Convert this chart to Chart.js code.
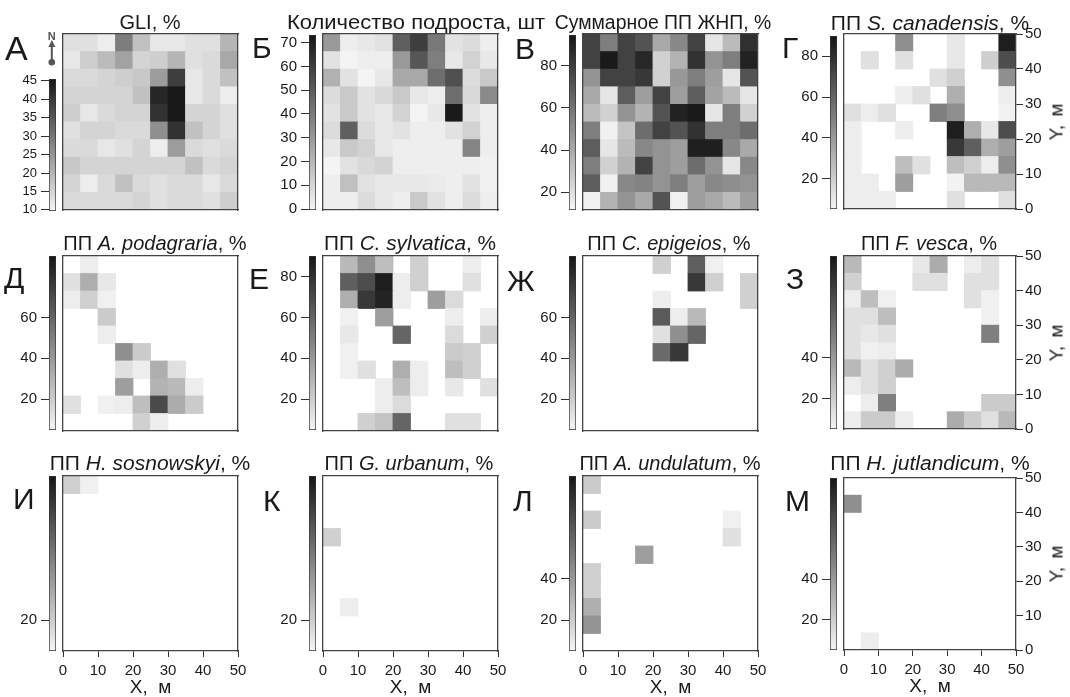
<!DOCTYPE html>
<html><head><meta charset="utf-8">
<script src="https://cdn.jsdelivr.net/npm/chart.js@4.4.1/dist/chart.umd.min.js"></script>
<style>
html,body{margin:0;padding:0;background:#fff;}
body{width:1070px;height:697px;overflow:hidden;position:relative;font-family:"Liberation Sans",Arial,sans-serif;color:#1a1a1a;}
canvas{position:absolute;}
.title{position:absolute;font-size:20px;line-height:1;white-space:nowrap;transform:translateX(-50%);}
.letter{position:absolute;font-size:30px;line-height:1;}
.ylab{position:absolute;font-size:19px;line-height:1;white-space:nowrap;transform:translate(-50%,-50%) rotate(-90deg);word-spacing:3px;}
</style></head><body>
<script>
// ---------------- DATA ----------------
const _ = null;
const xTickValues = [0, 10, 20, 30, 40, 50];
const yTickValues = [0, 10, 20, 30, 40, 50];
const gliTicks = [10, 15, 20, 25, 30, 35, 40, 45];
const seedlingTicks = [0, 10, 20, 30, 40, 50, 60, 70];
const totalTicks = [20, 40, 60, 80];
const gliRange = [9.7, 45.5];
const seedlingRange = [-0.4, 73.2];
const totalRange = [11.6, 94.5];
const coverRange = [5, 90];

// rows listed from north (Y 45-50) to south (Y 0-5), columns from X 0-5 to X 45-50
const gliGrid = [
  [13,13,11,29,18,12,12,13,13,20],
  [12,16,19,23,15,16,20,13,14,22],
  [14,14,15,16,17,24,39,12,14,18],
  [15,15,15,15,18,43,45,12,14,11],
  [16,12,14,15,15,41,45,15,15,13],
  [13,15,15,14,14,26,41,18,15,13],
  [14,14,12,13,15,11,24,14,13,14],
  [17,15,15,15,15,15,15,18,14,15],
  [15,11,14,18,14,13,14,14,12,14],
  [14,14,14,14,15,13,14,14,13,16]
];
const seedlingGrid = [
  [30, 2, 4, 6,49,60,41, 6, 8, 2],
  [ 6, 0, 2, 2,30,52,39, 4,11, 4],
  [22, 6, 0, 4,25,25,44,54, 8,14],
  [ 8,14, 6, 9,14, 4, 2,44, 9,35],
  [ 6,14, 6, 4,11, 0, 4,72, 6, 2],
  [ 8,49, 8, 4, 6, 2, 2, 6,11, 2],
  [ 4,14,11, 4, 2, 2, 2, 2,37, 2],
  [ 0, 6, 9,11, 2, 2, 2, 2, 2, 1],
  [ 2,17, 6, 4, 4, 4, 3, 2, 6, 1],
  [ 2, 2, 8, 4, 2,14, 6, 2, 8, 2]
];
const totalCoverGrid = [
  [78,56,78,72,40,52,78,17,33,85],
  [78,93,78,88,25,36,84,48,56,90],
  [48,78,78,82,25,46,56,44,17,72],
  [40,17,68,44,78,44,68,42,33,17],
  [33,25,48,36,72,90,93,17,56,25],
  [56,13,30,62,78,72,84,56,56,62],
  [68,17,33,52,48,44,91,91,52,40],
  [56,25,36,78,48,44,62,48,17,52],
  [68,13,52,54,48,56,44,52,50,48],
  [13,36,48,40,72,13,44,40,33,44]
];
const canadensisGrid = [
  [_,_,_,44,_,_,10,_,_,87],
  [_,13,_,13,_,_,10,_,20,69],
  [_,_,_,_,_,13,19,_,_,44],
  [_,_,_, 8,13,_,32,_,_, 8],
  [13,8,13,_,_,50,44,_,_, 6],
  [ 8,_,_, 8,_,_,87,32,10,69],
  [ 8,_,_,_,_,_,77,62,32,38],
  [ 8,_,_,26,13,_,26,19, 8,44],
  [ 8,8,_,38,_,_, 6,28,28,28],
  [ 8,8,8,_,_,_,13,_,_,13]
];
const podagrariaGrid = [
  [_, 8,_,_,_,_,_,_,_,_],
  [13,32,10,_,_,_,_,_,_,_],
  [ 8,19, 7,_,_,_,_,_,_,_],
  [_,_,21,_,_,_,_,_,_,_],
  [_,_, 8,_,_,_,_,_,_,_],
  [_,_,_,44,21,_,_,_,_,_],
  [_,_,_,13, 8,32,13,_,_,_],
  [_,_,_,38,_,30,28, 8,_,_],
  [13,_,7, 8,26,70,33,21,_,_],
  [_,_,_,_,19, 8,_,_,_,_]
];
const sylvaticaGrid = [
  [_,28,44,26,_,19,_,_, 8,_],
  [_,62,69,87, 8,19,_,_,13,_],
  [_,32,77,85, 8,_,38,15,_,_],
  [_, 7,_,38,_,_,_, 8,_, 8],
  [_,10,_,_,60,_,_,15,_,19],
  [_, 7,_,_,_,_,_,21,19,_],
  [_, 7,13,_,32, 8,_,26,19,_],
  [_,_,_, 8,26, 8,_,10,_,13],
  [_,_,_, 8,15,_,_,_,_,_],
  [_,_,19,24,60,_,_,13,13,_]
];
const epigeiosGrid = [
  [_,_,_,_,19,_,62, 7,_,_],
  [_,_,_,_,_,_,77,19,_,19],
  [_,_,_,_, 8,_,_,_,_,19],
  [_,_,_,_,64, 8,28,_,_,_],
  [_,_,_,_,13,44,60,_,_,_],
  [_,_,_,_,58,77,_,_,_,_],
  [_,_,_,_,_,_,_,_,_,_],
  [_,_,_,_,_,_,_,_,_,_],
  [_,_,_,_,_,_,_,_,_,_],
  [_,_,_,_,_,_,_,_,_,_]
];
const vescaGrid = [
  [28,_,_,_,10,33,_, 8,13,_],
  [19,_,_,_,13,13,_,13,13,_],
  [ 8,26, 7,_,_,_,_,13, 7,_],
  [13,13,26,_,_,_,_,_, 7,_],
  [13,10,13,_,_,_,_,_,50,_],
  [13, 7, 8,_,_,_,_,_,_,_],
  [28,13,19,33,_,_,_,_,_,_],
  [ 8,13,19,_,_,_,_,_,_,_],
  [_, 8,50,_,_,_,_,_,21,21],
  [ 8,21,21, 8,_,_,33,21,13,28]
];
const sosnowskyiGrid = [
  [19, 7,_,_,_,_,_,_,_,_],
  [_,_,_,_,_,_,_,_,_,_],[_,_,_,_,_,_,_,_,_,_],[_,_,_,_,_,_,_,_,_,_],[_,_,_,_,_,_,_,_,_,_],
  [_,_,_,_,_,_,_,_,_,_],[_,_,_,_,_,_,_,_,_,_],[_,_,_,_,_,_,_,_,_,_],[_,_,_,_,_,_,_,_,_,_],[_,_,_,_,_,_,_,_,_,_]
];
const urbanumGrid = [
  [_,_,_,_,_,_,_,_,_,_],[_,_,_,_,_,_,_,_,_,_],[_,_,_,_,_,_,_,_,_,_],
  [19,_,_,_,_,_,_,_,_,_],
  [_,_,_,_,_,_,_,_,_,_],[_,_,_,_,_,_,_,_,_,_],[_,_,_,_,_,_,_,_,_,_],
  [_, 8,_,_,_,_,_,_,_,_],
  [_,_,_,_,_,_,_,_,_,_],[_,_,_,_,_,_,_,_,_,_]
];
const undulatumGrid = [
  [21,_,_,_,_,_,_,_,_,_],
  [_,_,_,_,_,_,_,_,_,_],
  [21,_,_,_,_,_,_,_, 7,_],
  [_,_,_,_,_,_,_,_,13,_],
  [_,_,_,38,_,_,_,_,_,_],
  [19,_,_,_,_,_,_,_,_,_],
  [19,_,_,_,_,_,_,_,_,_],
  [32,_,_,_,_,_,_,_,_,_],
  [42,_,_,_,_,_,_,_,_,_],
  [_,_,_,_,_,_,_,_,_,_]
];
const jutlandicumGrid = [
  [_,_,_,_,_,_,_,_,_,_],
  [44,_,_,_,_,_,_,_,_,_],
  [_,_,_,_,_,_,_,_,_,_],[_,_,_,_,_,_,_,_,_,_],[_,_,_,_,_,_,_,_,_,_],
  [_,_,_,_,_,_,_,_,_,_],[_,_,_,_,_,_,_,_,_,_],[_,_,_,_,_,_,_,_,_,_],[_,_,_,_,_,_,_,_,_,_],
  [_, 8,_,_,_,_,_,_,_,_]
];

// ---------------- LAYOUT ----------------
const PLOT_SIZE = 50, N_CELLS = 10, CELL = PLOT_SIZE / N_CELLS;
const FONT = '"Liberation Sans", Arial, sans-serif';
Chart.defaults.font.family = FONT;
Chart.defaults.color = '#1a1a1a';

const panels = [
  {letter:'А', lp:[5,31,34], title:'GLI, %', tc:[150,12], grid:gliGrid, range:gliRange, ticks:gliTicks, cbFont:13, g:[63,34,175,176], cb:[49,79,7,132], row:0, col:0},
  {letter:'Б', lp:[252,33], title:'Количество подроста, шт', tsx:1.1, tc:[416,12], grid:seedlingGrid, range:seedlingRange, ticks:seedlingTicks, g:[323,34,175,176], cb:[309,35,7,175], row:0, col:1},
  {letter:'В', lp:[515,34], title:'Суммарное ПП ЖНП, %', tsx:0.97, tc:[663,12], grid:totalCoverGrid, range:totalRange, ticks:totalTicks, g:[583,34,175,176], cb:[569,35,7,175], row:0, col:2},
  {letter:'Г', lp:[782,33], title:'ПП <i>S. canadensis</i>, %', tsx:1.05, tc:[930,13], grid:canadensisGrid, range:coverRange, ticks:[20,40,60,80], g:[844,34,172,175], cb:[830,36,7,173], row:0, col:3},
  {letter:'Д', lp:[4,263], title:'ПП <i>A. podagraria</i>, %', tc:[155,233], grid:podagrariaGrid, range:coverRange, ticks:[20,40,60], g:[63,256,175,175], cb:[49,256,7,174], row:1, col:0},
  {letter:'Е', lp:[249,264], title:'ПП <i>C. sylvatica</i>, %', tsx:1.04, tc:[410,233], grid:sylvaticaGrid, range:coverRange, ticks:[20,40,60,80], g:[323,256,175,175], cb:[309,256,7,174], row:1, col:1},
  {letter:'Ж', lp:[507,266], title:'ПП <i>C. epigeios</i>, %', tc:[669,233], grid:epigeiosGrid, range:coverRange, ticks:[20,40,60], g:[583,256,175,175], cb:[569,256,7,174], row:1, col:2},
  {letter:'З', lp:[786,264], title:'ПП <i>F. vesca</i>, %', tc:[929,233], grid:vescaGrid, range:coverRange, ticks:[20,40], g:[844,256,172,173], cb:[830,256,7,173], row:1, col:3},
  {letter:'И', lp:[13,484], title:'ПП <i>H. sosnowskyi</i>, %', tsx:1.05, tc:[150,453], grid:sosnowskyiGrid, range:coverRange, ticks:[20], g:[63,476,175,175], cb:[49,476,7,175], row:2, col:0},
  {letter:'К', lp:[263,486], title:'ПП <i>G. urbanum</i>, %', tc:[409,453], grid:urbanumGrid, range:coverRange, ticks:[20], g:[323,476,175,175], cb:[309,476,7,175], row:2, col:1},
  {letter:'Л', lp:[513,486], title:'ПП <i>A. undulatum</i>, %', tc:[670,453], grid:undulatumGrid, range:coverRange, ticks:[20,40], g:[583,476,175,175], cb:[569,476,7,175], row:2, col:2},
  {letter:'М', lp:[785,486], title:'ПП <i>H. jutlandicum</i>, %', tsx:1.05, tc:[930,453], grid:jutlandicumGrid, range:coverRange, ticks:[20,40], g:[844,478,172,172], cb:[830,478,7,172], row:2, col:3}
];

const G_LIGHT = 245, G_DARK = 22;
function grayAt(t) { const g = Math.round(G_LIGHT - Math.max(0, Math.min(1, t)) * (G_LIGHT - G_DARK)); return `rgb(${g},${g},${g})`; }
function colorFor(v, range) { return v === null ? 'rgba(0,0,0,0)' : grayAt((v - range[0]) / (range[1] - range[0])); }

function cellsOf(grid) {
  const pts = [];
  grid.forEach((row, r) => row.forEach((v, c) => {
    const y0 = PLOT_SIZE - (r + 1) * CELL;
    pts.push({x: c * CELL + CELL / 2, y: [y0, y0 + CELL], v});
  }));
  return pts;
}

function makeCanvas(left, top, w, h) {
  const cv = document.createElement('canvas');
  cv.width = w; cv.height = h;
  Object.assign(cv.style, {left: left + 'px', top: top + 'px', width: w + 'px', height: h + 'px'});
  document.body.appendChild(cv);
  return cv;
}
function addDiv(cls, html, left, top, extra) {
  const d = document.createElement('div');
  d.className = cls; d.innerHTML = html;
  d.style.left = left + 'px'; d.style.top = top + 'px';
  if (extra) Object.assign(d.style, extra);
  document.body.appendChild(d);
  return d;
}

const BORDER = {display: true, color: '#444', width: 1.3, z: 1};
const noPad = s => { s.paddingLeft = s.paddingRight = s.paddingTop = s.paddingBottom = 0; };

function heatmap(p) {
  const showX = p.row === 2, showY = p.col === 3;
  const PAD = 10, RW = showY ? 50 : 0, BH = showX ? 48 : 0;
  const [l, t, w, h] = p.g;
  const cv = makeCanvas(l - PAD, t - PAD, w + 2 * PAD + RW, h + 2 * PAD + BH);
  const pts = cellsOf(p.grid);
  new Chart(cv, {
    type: 'bar',
    data: {datasets: [{
      data: pts,
      backgroundColor: pts.map(pt => colorFor(pt.v, p.range)),
      borderWidth: 0, barPercentage: 1, categoryPercentage: 1, inflateAmount: 0.4
    }]},
    options: {
      responsive: false, animation: false, events: [],
      layout: {padding: PAD},
      plugins: {legend: {display: false}, tooltip: {enabled: false}},
      scales: {
        x: {type: 'linear', position: 'bottom', min: 0, max: PLOT_SIZE, offset: false,
            afterBuildTicks: s => { s.ticks = xTickValues.map(v => ({value: v})); },
            ticks: {display: showX, font: {size: 15}, color: '#1a1a1a', padding: 5, maxRotation: 0, autoSkip: false},
            grid: {display: showX, drawOnChartArea: false, drawTicks: showX, tickLength: 6, color: '#333', offset: false},
            border: BORDER,
            title: {display: showX, text: 'X,  м', font: {size: 19}, color: '#1a1a1a', padding: 0},
            afterFit: s => { s.height = BH; noPad(s); }},
        y: {type: 'linear', position: 'left', min: 0, max: PLOT_SIZE,
            ticks: {display: false}, grid: {display: false, drawTicks: false}, border: BORDER,
            afterFit: s => { s.width = 0; noPad(s); }},
        x2: {type: 'linear', position: 'top', min: 0, max: PLOT_SIZE,
            ticks: {display: false}, grid: {display: false, drawTicks: false}, border: BORDER,
            afterFit: s => { s.height = 0; noPad(s); }},
        y2: {type: 'linear', position: 'right', min: 0, max: PLOT_SIZE,
            afterBuildTicks: s => { s.ticks = yTickValues.map(v => ({value: v})); },
            ticks: {display: showY, font: {size: 15}, color: '#1a1a1a', padding: 2},
            grid: {display: showY, drawOnChartArea: false, drawTicks: showY, tickLength: 7, color: '#333'},
            border: BORDER,
            afterFit: s => { s.width = RW; noPad(s); }}
      }
    }
  });
}

function colorbar(p) {
  const AXW = 42, PAD = 10;
  const [l, t, w, h] = p.cb;
  const cv = makeCanvas(l - AXW, t - PAD, AXW + w, h + 2 * PAD);
  new Chart(cv, {
    type: 'bar',
    data: {labels: [''], datasets: [{
      data: [p.range],
      backgroundColor: (ctx) => {
        const chart = ctx.chart, ys = chart.scales.y;
        if (!chart.chartArea || !ys) return '#999';
        const grad = chart.ctx.createLinearGradient(0, ys.getPixelForValue(p.range[0]), 0, ys.getPixelForValue(p.range[1]));
        grad.addColorStop(0, grayAt(0)); grad.addColorStop(1, grayAt(1));
        return grad;
      },
      borderColor: '#333', borderWidth: 1, borderSkipped: false,
      barPercentage: 1, categoryPercentage: 1
    }]},
    options: {
      responsive: false, animation: false, events: [],
      layout: {padding: {top: PAD, bottom: PAD, left: 0, right: 0}},
      plugins: {legend: {display: false}, tooltip: {enabled: false}},
      scales: {
        x: {display: false},
        y: {type: 'linear', position: 'left', min: p.range[0], max: p.range[1],
            afterBuildTicks: s => { s.ticks = p.ticks.map(v => ({value: v})); },
            ticks: {font: {size: p.cbFont || 15}, color: '#1a1a1a', padding: 4},
            grid: {display: true, drawOnChartArea: false, drawTicks: true, tickLength: 8, color: '#333'},
            border: {display: false},
            afterFit: s => { s.width = AXW; noPad(s); }}
      }
    }
  });
}

panels.forEach(p => {
  heatmap(p);
  colorbar(p);
  addDiv('title', p.title, p.tc[0], p.tc[1], p.tsx ? {transform: `translateX(-50%) scaleX(${p.tsx})`} : null);
  addDiv('letter', p.letter, p.lp[0], p.lp[1], p.lp[2] ? {fontSize: p.lp[2] + 'px'} : null);
  if (p.col === 3) addDiv('ylab', 'Y, м', 1056, p.g[1] + p.g[3] / 2);
});

// north arrow of panel А
const svgNS = 'http://www.w3.org/2000/svg';
const na = document.createElementNS(svgNS, 'svg');
na.setAttribute('width', '16'); na.setAttribute('height', '40');
Object.assign(na.style, {position: 'absolute', left: '44px', top: '30px'});
na.innerHTML = '<text x="7.8" y="9.5" text-anchor="middle" font-family="Liberation Sans, Arial" font-weight="bold" font-size="11" fill="#555">N</text>' +
  '<polygon points="7.8,10 4.3,17 11.3,17" fill="#555"/>' +
  '<line x1="7.8" y1="16" x2="7.8" y2="30" stroke="#555" stroke-width="2"/>' +
  '<circle cx="7.8" cy="32.3" r="3.3" fill="#555"/>';
document.body.appendChild(na);
</script>
</body></html>
